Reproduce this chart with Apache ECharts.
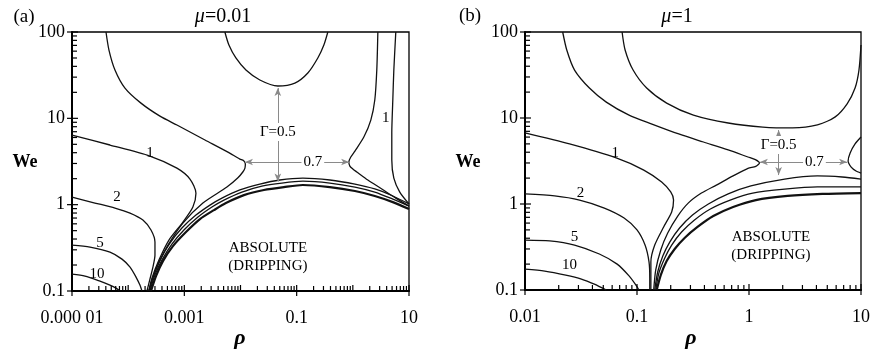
<!DOCTYPE html>
<html>
<head>
<meta charset="utf-8">
<title>We vs rho</title>
<script src="https://cdn.jsdelivr.net/npm/echarts@6.0.0/dist/echarts.min.js"></script>
<style>
  html, body { margin: 0; padding: 0; background: #fff; }
  #chart { width: 873px; height: 350px; }
</style>
</head>
<body>
<div id="chart"></div>
<script>
// (a) mu = 0.01 -- contours of Gamma, points are [rho, We]
const a_g10 = [[1e-5, 0.157], [1.7e-5, 0.149], [3.15e-5, 0.13], [4.74e-5, 0.117], [6.07e-5, 0.108], [7.14e-5, 0.1]];
const a_g5 = [[1e-5, 0.34], [2.09e-5, 0.323], [4.74e-5, 0.282], [7.76e-5, 0.234], [1.08e-4, 0.189], [1.38e-4, 0.145], [1.62e-4, 0.117], [1.76e-4, 0.1]];
const a_g2 = [[1e-5, 1.22], [2.56e-5, 1.045], [5.82e-5, 0.914], [1.08e-4, 0.8], [1.83e-4, 0.664], [2.55e-4, 0.508], [3.0e-4, 0.369], [3.0e-4, 0.261], [2.76e-4, 0.189], [2.44e-4, 0.137], [2.16e-4, 0.1]];
const a_g1 = [[1e-5, 6.4], [4.74e-5, 4.91], [2.44e-4, 3.66], [7.38e-4, 2.65], [1.26e-3, 1.98], [1.61e-3, 1.36], [1.42e-3, 0.938], [9.44e-4, 0.628], [5.32e-4, 0.389], [3.53e-4, 0.228], [2.65e-4, 0.141], [2.34e-4, 0.1]];
const a_g07 = [[4.03e-5, 100], [4.55e-5, 61.8], [5.82e-5, 36.3], [8.77e-5, 22.4], [1.69e-4, 15.0], [3.68e-4, 10.6], [7.38e-4, 8.36], [2.33e-3, 5.61], [5.97e-3, 4.06], [9.75e-3, 3.37], [1.13e-2, 3.24], [1.22e-2, 2.95], [1.2e-2, 2.65], [1.1e-2, 2.39], [9.0e-3, 2.05], [5.73e-3, 1.6], [2.14e-3, 1.045], [9.44e-4, 0.612], [5.11e-4, 0.34], [3.39e-4, 0.2], [2.65e-4, 0.134], [2.34e-4, 0.1]];
const a_g05 = [[5.27e-3, 100], [6.22e-3, 70.6], [8.28e-3, 50], [1.25e-2, 36.3], [2.21e-2, 27.8], [4.62e-2, 23.7], [9.29e-2, 25.6], [0.158, 33.5], [0.238, 50], [0.305, 70.6], [0.359, 100]];
const a_arcA = [[2.34e-4, 0.1], [2.88e-4, 0.153], [3.68e-4, 0.228], [5.55e-4, 0.359], [9.06e-4, 0.536], [1.61e-3, 0.757], [2.86e-3, 0.989], [4.67e-3, 1.19], [9.75e-3, 1.48], [2.21e-2, 1.73], [5.02e-2, 1.93], [0.129, 2.03], [0.39, 1.93], [1.09, 1.73], [2.46, 1.52], [5.15, 1.26], [10, 1.02]];
const a_arcB = [[2.44e-4, 0.1], [3.0e-4, 0.153], [3.99e-4, 0.228], [6.01e-4, 0.349], [9.84e-4, 0.508], [1.75e-3, 0.718], [3.1e-3, 0.938], [5.07e-3, 1.13], [1.06e-2, 1.4], [2.4e-2, 1.64], [5.46e-2, 1.78], [0.129, 1.87], [0.39, 1.78], [1.09, 1.6], [2.46, 1.4], [5.15, 1.16], [10, 0.964]];
const a_abs = [[2.55e-4, 0.1], [3.13e-4, 0.149], [4.16e-4, 0.222], [6.27e-4, 0.331], [1.07e-3, 0.482], [1.9e-3, 0.681], [3.37e-3, 0.865], [5.5e-3, 1.045], [1.15e-2, 1.29], [2.61e-2, 1.48], [5.92e-2, 1.6], [0.129, 1.69], [0.39, 1.6], [1.09, 1.44], [2.46, 1.26], [5.15, 1.07], [10, 0.889]];
const a_g07R = [[2.79, 100], [2.67, 36.3], [2.46, 16.3], [2.09, 9.55], [1.57, 6.07], [1.09, 4.18], [0.92, 3.56], [0.849, 3.12], [0.885, 2.8], [1.0, 2.59], [1.18, 2.39], [1.85, 1.93], [3.28, 1.52], [5.82, 1.19], [10, 0.964]];
const a_g1R = [[5.82, 100], [5.37, 36.3], [5.15, 16.3], [4.94, 6.76], [4.94, 3.29], [5.37, 2.03], [6.85, 1.4], [10, 1.02]];

// (b) mu = 1
const b_g10 = [[0.01, 0.175], [0.015, 0.166], [0.0231, 0.149], [0.0319, 0.134], [0.0416, 0.117], [0.0532, 0.1]];
const b_g5 = [[0.01, 0.381], [0.0166, 0.372], [0.0277, 0.333], [0.0461, 0.262], [0.0665, 0.2], [0.0849, 0.146], [0.0979, 0.114], [0.104, 0.1]];
const b_g2 = [[0.01, 1.31], [0.0184, 1.24], [0.0307, 1.11], [0.0511, 0.897], [0.0767, 0.687], [0.1, 0.499], [0.118, 0.333], [0.128, 0.212], [0.13, 0.138], [0.13, 0.1]];
const b_g1 = [[0.01, 6.7], [0.025, 4.99], [0.0652, 3.43], [0.115, 2.48], [0.166, 1.8], [0.2, 1.38], [0.212, 1.11], [0.204, 0.807], [0.173, 0.541], [0.144, 0.333], [0.133, 0.212], [0.133, 0.1]];
const b_g07 = [[0.0217, 100], [0.0236, 61.8], [0.0277, 36.1], [0.0376, 22.3], [0.0532, 15.3], [0.0849, 10.8], [0.136, 8.51], [0.236, 6.52], [0.392, 5.26], [0.652, 4.25], [0.979, 3.52], [1.14, 3.28], [1.24, 3.0], [1.15, 2.74], [0.979, 2.6], [0.721, 2.12], [0.511, 1.66], [0.376, 1.34], [0.288, 1.03], [0.231, 0.724], [0.188, 0.46], [0.163, 0.292], [0.147, 0.171], [0.141, 0.1]];
const b_g05 = [[0.0736, 100], [0.0783, 61.8], [0.0923, 36.1], [0.122, 22.3], [0.184, 14.9], [0.319, 10.8], [0.652, 8.75], [1.33, 7.85], [2.45, 7.66], [4.08, 8.3], [5.89, 10.3], [7.52, 14.6], [8.85, 22.3], [9.59, 36.1], [10, 70.6]];
const b_arcA = [[0.144, 0.1], [0.153, 0.162], [0.17, 0.248], [0.196, 0.361], [0.24, 0.526], [0.313, 0.745], [0.434, 1.0], [0.652, 1.31], [1.04, 1.62], [2.08, 1.95], [4.08, 2.12], [6.79, 2.06], [10, 1.95]];
const b_arcB = [[0.147, 0.1], [0.157, 0.158], [0.177, 0.236], [0.204, 0.333], [0.25, 0.472], [0.326, 0.652], [0.452, 0.875], [0.679, 1.11], [1.08, 1.34], [2.08, 1.49], [4.08, 1.58], [10, 1.58]];
const b_abs = [[0.15, 0.1], [0.163, 0.149], [0.184, 0.217], [0.217, 0.3], [0.266, 0.403], [0.347, 0.541], [0.48, 0.724], [0.721, 0.923], [1.15, 1.11], [2.21, 1.24], [4.52, 1.31], [10, 1.34]];
const b_g07R = [[10, 6.01], [8.85, 4.99], [8.0, 3.92], [7.67, 3.16], [8.17, 2.69], [9.03, 2.42], [10, 2.29]];

// tick labels
const a_xTicks = [1e-5, 1e-3, 0.1, 10];
const a_xTickLabels = ['0.000 01', '0.001', '0.1', '10'];
const b_xTicks = [0.01, 0.1, 1, 10];
const b_xTickLabels = ['0.01', '0.1', '1', '10'];
const yTicks = [0.1, 1, 10, 100];
const yTickLabels = ['0.1', '1', '10', '100'];

// annotation arrows and texts, [rho, We(, text)]
const a_arrows = [[[4.62e-2, 22.4], [4.62e-2, 1.85]], [[1.2e-2, 3.12], [0.86, 3.12]]];
const a_boxed = [[4.62e-2, 6.93, 'Γ=0.5'], [0.194, 3.12, '0.7']];
const a_texts = [[2.44e-4, 3.96, '1'], [6.32e-5, 1.22, '2'], [3.15e-5, 0.359, '5'], [2.79e-5, 0.157, '10'], [3.86, 10.1, '1'], [0.0308, 0.247, 'ABSOLUTE\n(DRIPPING)']];
const b_arrows = [[[1.84, 7.24], [1.84, 2.17]], [[1.25, 3.08], [7.52, 3.08]]];
const b_boxed = [[1.84, 4.85, 'Γ=0.5'], [3.84, 3.08, '0.7']];
const b_texts = [[0.0638, 3.92, '1'], [0.0313, 1.34, '2'], [0.0277, 0.413, '5'], [0.025, 0.195, '10'], [1.57, 0.325, 'ABSOLUTE\n(DRIPPING)']];

const SERIF = '"Liberation Serif", "Times New Roman", serif';
const chart = echarts.init(document.getElementById('chart'));

function labelFor(ticks, labels, v) {
    for (let i = 0; i < ticks.length; i++) {
        if (Math.abs(Math.log10(ticks[i]) - Math.log10(v)) < 0.01) return labels[i];
    }
    return '';
}

// decade ticks plus 2..9 minor ticks; kind 0 = labelled, 1 = bare decade, 2 = minor
function logTicks(lo, hi, labelled) {
    let out = [];
    for (let e = lo; e <= hi; e++) {
        out.push([Math.pow(10, e), labelled.indexOf(e) >= 0 ? 0 : 1]);
        if (e < hi) {
            for (let m = 2; m <= 9; m++) out.push([m * Math.pow(10, e), 2]);
        }
    }
    return out;
}

function xTickSeries(idx, ticks, yMin) {
    return {
        type: 'custom', xAxisIndex: idx, yAxisIndex: idx, silent: true, z: 6,
        encode: { x: 0, y: 1 },
        data: ticks.map(t => [t[0], yMin, t[1]]),
        renderItem: function (params, api) {
            let p = api.coord([api.value(0), api.value(1)]);
            let k = api.value(2);
            let up = k === 2 ? 5 : 6, down = k === 0 ? 5 : 0;
            return { type: 'line', shape: { x1: p[0], y1: p[1] + down, x2: p[0], y2: p[1] - up },
                     style: { stroke: '#000', lineWidth: 1.2 } };
        }
    };
}

function yTickSeries(idx, ticks, xMin) {
    return {
        type: 'custom', xAxisIndex: idx, yAxisIndex: idx, silent: true, z: 6,
        encode: { x: 0, y: 1 },
        data: ticks.map(t => [xMin, t[0], t[1]]),
        renderItem: function (params, api) {
            let p = api.coord([api.value(0), api.value(1)]);
            let k = api.value(2);
            let left = k === 0 ? 5 : 0, right = k === 2 ? 5 : 6;
            return { type: 'line', shape: { x1: p[0] - left, y1: p[1], x2: p[0] + right, y2: p[1] },
                     style: { stroke: '#000', lineWidth: 1.2 } };
        }
    };
}

function curve(data, idx, w) {
    return {
        type: 'line', xAxisIndex: idx, yAxisIndex: idx, data: data,
        symbol: 'none', smooth: 0.25, clip: true, z: 3,
        lineStyle: { color: '#111', width: w || 1.3 }
    };
}

function withArrows(s, arrows) {
    s.markLine = {
        silent: true, symbol: ['arrow', 'arrow'], symbolSize: [5, 8],
        lineStyle: { color: '#8a8a8a', width: 1, type: 'solid' },
        label: { show: false },
        data: arrows.map(a => [{ coord: a[0] }, { coord: a[1] }])
    };
    return s;
}

function textSeries(idx, texts, boxed) {
    return {
        type: 'scatter', xAxisIndex: idx, yAxisIndex: idx, silent: true, z: 8,
        symbolSize: 1, itemStyle: { color: 'transparent' },
        label: { show: true, position: 'inside', formatter: '{b}', color: '#000', opacity: 1,
                 fontFamily: SERIF, fontSize: 15, lineHeight: 18,
                 backgroundColor: boxed ? '#fff' : 'transparent', padding: boxed ? [0, 2] : 0 },
        data: texts.map(t => ({ value: [t[0], t[1]], name: t[2] }))
    };
}

function xAxisOf(idx, min, ticks, labels) {
    return {
        type: 'log', logBase: 10, gridIndex: idx, min: min, max: 10,
        axisLine: { lineStyle: { color: '#000', width: 2 } },
        axisTick: { show: false }, splitLine: { show: false },
        axisLabel: { formatter: v => labelFor(ticks, labels, v), color: '#000',
                     fontFamily: SERIF, fontSize: 18, margin: 18 }
    };
}

function yAxisOf(idx) {
    return {
        type: 'log', logBase: 10, gridIndex: idx, min: 0.1, max: 100,
        axisLine: { lineStyle: { color: '#000', width: 2 } },
        axisTick: { show: false }, splitLine: { show: false },
        axisLabel: { formatter: v => labelFor(yTicks, yTickLabels, v), color: '#000',
                     fontFamily: SERIF, fontSize: 18, margin: 7 }
    };
}

const option = {
    animation: false,
    backgroundColor: '#fff',
    grid: [
        { left: 72, top: 32, width: 337, height: 259, show: true, borderColor: '#000', borderWidth: 1.3 },
        { left: 525, top: 32, width: 339, height: 258, show: true, borderColor: '#000', borderWidth: 1.3 }
    ],
    xAxis: [xAxisOf(0, 1e-5, a_xTicks, a_xTickLabels), xAxisOf(1, 0.01, b_xTicks, b_xTickLabels)],
    yAxis: [yAxisOf(0), yAxisOf(1)],
    graphic: [
        { type: 'text', x: 24, y: 17, style: { text: '(a)', font: '19px ' + SERIF, fill: '#000', textAlign: 'center', textVerticalAlign: 'middle' } },
        { type: 'text', x: 223, y: 17, style: { text: '{i|μ}=0.01', font: '20px ' + SERIF, fill: '#000', textAlign: 'center', textVerticalAlign: 'middle', rich: { i: { fontStyle: 'italic', fontSize: 20, fontFamily: SERIF } } } },
        { type: 'text', x: 470, y: 16, style: { text: '(b)', font: '19px ' + SERIF, fill: '#000', textAlign: 'center', textVerticalAlign: 'middle' } },
        { type: 'text', x: 677, y: 17, style: { text: '{i|μ}=1', font: '20px ' + SERIF, fill: '#000', textAlign: 'center', textVerticalAlign: 'middle', rich: { i: { fontStyle: 'italic', fontSize: 20, fontFamily: SERIF } } } },
        { type: 'text', x: 25, y: 162, style: { text: 'We', font: 'bold 18px ' + SERIF, fill: '#000', textAlign: 'center', textVerticalAlign: 'middle' } },
        { type: 'text', x: 468, y: 162, style: { text: 'We', font: 'bold 18px ' + SERIF, fill: '#000', textAlign: 'center', textVerticalAlign: 'middle' } },
        { type: 'text', x: 240, y: 338, style: { text: 'ρ', font: 'italic bold 22px ' + SERIF, fill: '#000', textAlign: 'center', textVerticalAlign: 'middle' } },
        { type: 'text', x: 691, y: 338, style: { text: 'ρ', font: 'italic bold 22px ' + SERIF, fill: '#000', textAlign: 'center', textVerticalAlign: 'middle' } }
    ],
    series: [
        curve(a_g10, 0), curve(a_g5, 0), curve(a_g2, 0), curve(a_g1, 0), curve(a_g07, 0),
        withArrows(curve(a_g05, 0), a_arrows),
        curve(a_arcA, 0), curve(a_arcB, 0), curve(a_abs, 0, 2.2), curve(a_g07R, 0), curve(a_g1R, 0),
        curve(b_g10, 1), curve(b_g5, 1), curve(b_g2, 1), curve(b_g1, 1), curve(b_g07, 1),
        withArrows(curve(b_g05, 1), b_arrows),
        curve(b_arcA, 1), curve(b_arcB, 1), curve(b_abs, 1, 2.2), curve(b_g07R, 1),
        textSeries(0, a_texts, false), textSeries(0, a_boxed, true),
        textSeries(1, b_texts, false), textSeries(1, b_boxed, true),
        xTickSeries(0, logTicks(-5, 1, [-5, -3, -1, 1]), 0.1),
        xTickSeries(1, logTicks(-2, 1, [-2, -1, 0, 1]), 0.1),
        yTickSeries(0, logTicks(-1, 2, [-1, 0, 1, 2]), 1e-5),
        yTickSeries(1, logTicks(-1, 2, [-1, 0, 1, 2]), 0.01)
    ]
};

chart.setOption(option);
</script>
</body>
</html>
